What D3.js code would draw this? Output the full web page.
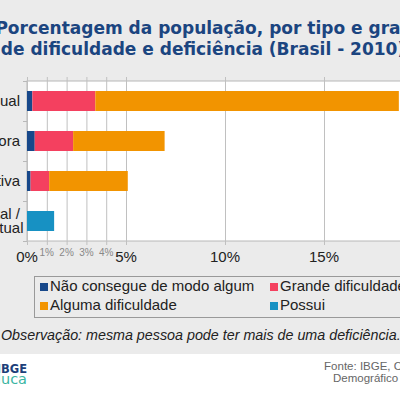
<!DOCTYPE html>
<html>
<head>
<meta charset="utf-8">
<script src="https://cdn.jsdelivr.net/npm/d3@7"></script>
<style>
  body { margin: 0; overflow: hidden; }
  svg { display: block; font-family: "Liberation Sans", Arial, sans-serif; }
</style>
</head>
<body>
<div id="chart"></div>
<script>
// data (percent of population)
var categories = ["Visual", "Motora", "Auditiva", "Mental / Intelectual"];
var seriesNames = ["Não consegue de modo algum", "Grande dificuldade", "Alguma dificuldade", "Possui"];
var naoConsegue = [0.27, 0.39, 0.18, 0];
var grandeDificuldade = [3.18, 1.94, 0.94, 0];
var algumaDificuldade = [15.33, 4.62, 3.97, 0];
var possui = [0, 0, 0, 1.37];
var majorTicks = [0, 5, 10, 15];
var minorTicks = [1, 2, 3, 4];
var colors = ["#17488a", "#f4405f", "#f29400", "#1791c3"];

var width = 400, height = 398;
var margin = {top: 81, left: 27, bottom: 241};

var svg = d3.select("#chart")
  .append("svg")
    .attr("width", width)
    .attr("height", height);

// backgrounds
svg.append("rect").attr("width", width).attr("height", 354).attr("fill", "#ebebeb");
svg.append("rect").attr("y", 354).attr("width", width).attr("height", height - 354).attr("fill", "#fff");

// table for the stack
var rows = categories.map(function(c, i) {
  return {cat: c, s0: naoConsegue[i], s1: grandeDificuldade[i], s2: algumaDificuldade[i], s3: possui[i]};
});
var stacked = d3.stack().keys(["s0", "s1", "s2", "s3"])(rows);

var x = d3.scaleLinear().domain([0, 20]).range([margin.left, margin.left + 19.8 * 20]);
var y = d3.scaleBand().domain(categories).range([margin.top, margin.bottom]).paddingInner(0.5).paddingOuter(0.25);
var yb = d3.scaleBand().domain(categories).range([margin.top, margin.bottom]);

// plot area
svg.append("rect")
  .attr("x", x(0)).attr("y", margin.top)
  .attr("width", x(20) - x(0)).attr("height", margin.bottom - margin.top)
  .attr("fill", "#fff").attr("stroke", "#b8b8b8");

// grid lines (extend a little past the plot)
svg.append("g").selectAll("line")
  .data(majorTicks.concat(minorTicks))
  .enter().append("line")
    .attr("x1", d => x(d) + 0.5).attr("x2", d => x(d) + 0.5)
    .attr("y1", margin.top - 4).attr("y2", margin.bottom + 4)
    .attr("stroke", "#c0c0c0");

// y tick marks between categories
svg.append("g").selectAll("line")
  .data(categories.concat(["end"]))
  .enter().append("line")
    .attr("x1", x(0) - 4).attr("x2", x(0))
    .attr("y1", (d, i) => margin.top + i * yb.bandwidth() + 0.5)
    .attr("y2", (d, i) => margin.top + i * yb.bandwidth() + 0.5)
    .attr("stroke", "#b8b8b8");

// bars
svg.append("g").selectAll("g")
  .data(stacked)
  .enter().append("g")
    .attr("fill", (d, i) => colors[i])
  .selectAll("rect")
  .data(d => d)
  .enter().append("rect")
    .attr("x", d => x(d[0]))
    .attr("y", d => y(d.data.cat))
    .attr("width", d => x(d[1]) - x(d[0]))
    .attr("height", y.bandwidth());

// category labels
var ylab = svg.append("g").selectAll("text")
  .data(categories)
  .enter().append("text")
    .attr("x", 20)
    .attr("y", d => y(d) + y.bandwidth() / 2 + 5)
    .attr("text-anchor", "end")
    .attr("font-size", 15)
    .attr("fill", "#222");
ylab.each(function(d) {
  var parts = d.indexOf(" / ") > 0 ? [d.split(" / ")[0] + " /", d.split(" / ")[1]] : [d];
  var t = d3.select(this);
  parts.forEach(function(p, i) {
    t.append("tspan").attr("x", i === 0 ? 20 : 23.5)
      .attr("dy", parts.length > 1 ? (i === 0 ? -7 : 13.5) : 0)
      .text(p);
  });
});

// x tick labels
svg.append("g").selectAll("text")
  .data(majorTicks)
  .enter().append("text")
    .attr("x", d => x(d))
    .attr("y", 262)
    .attr("text-anchor", "middle")
    .attr("font-size", 15)
    .attr("fill", "#222")
    .text(d => d + "%");
svg.append("g").selectAll("text")
  .data(minorTicks)
  .enter().append("text")
    .attr("x", d => x(d))
    .attr("y", 256)
    .attr("text-anchor", "middle")
    .attr("font-size", 10)
    .attr("fill", "#888")
    .text(d => d + "%");

// title
var title = svg.append("text")
  .attr("text-anchor", "middle")
  .attr("font-family", "DejaVu Sans")
  .attr("font-size", 17)
  .attr("font-weight", "bold")
  .attr("fill", "#1b4580");
title.append("tspan").attr("x", 204).attr("y", 34).text("Porcentagem da população, por tipo e grau");
title.append("tspan").attr("x", 203).attr("y", 55).text("de dificuldade e deficiência (Brasil - 2010)");

// legend
var legend = svg.append("g");
legend.append("rect")
  .attr("x", 34.5).attr("y", 276.5)
  .attr("width", 420).attr("height", 41)
  .attr("fill", "#ebebeb").attr("stroke", "#999");
var item = legend.selectAll(".item")
  .data(seriesNames)
  .enter().append("g")
    .attr("class", "item")
    .attr("transform", (d, i) => "translate(" + (i % 2 === 0 ? 40 : 270) + "," + (i < 2 ? 283 : 302) + ")");
item.append("rect")
  .attr("width", 8).attr("height", 8)
  .attr("fill", (d, i) => colors[i]);
item.append("text")
  .attr("x", 10).attr("y", 8)
  .attr("font-size", 15)
  .attr("fill", "#222")
  .text(d => d);

// note
svg.append("text")
  .attr("x", 1).attr("y", 340)
  .attr("font-size", 14.3)
  .attr("font-style", "italic")
  .attr("fill", "#222")
  .text("Observação: mesma pessoa pode ter mais de uma deficiência.");

// footer
svg.append("text")
  .attr("x", 27).attr("y", 373)
  .attr("text-anchor", "end")
  .attr("font-family", "DejaVu Sans")
  .attr("font-size", 11.5)
  .attr("font-weight", "bold")
  .attr("fill", "#1d3f7a")
  .text("IBGE");
svg.append("text")
  .attr("x", 27).attr("y", 384)
  .attr("text-anchor", "end")
  .attr("font-family", "DejaVu Sans")
  .attr("font-size", 14.5)
  .attr("fill", "#3ab5a2")
  .text("educa");
var fonte = svg.append("text")
  .attr("text-anchor", "end")
  .attr("font-size", 11.5)
  .attr("fill", "#666");
fonte.append("tspan").attr("x", 427).attr("y", 370).text("Fonte: IBGE, Censo");
fonte.append("tspan").attr("x", 427).attr("y", 382).text("Demográfico 2010");
</script>
</body>
</html>
